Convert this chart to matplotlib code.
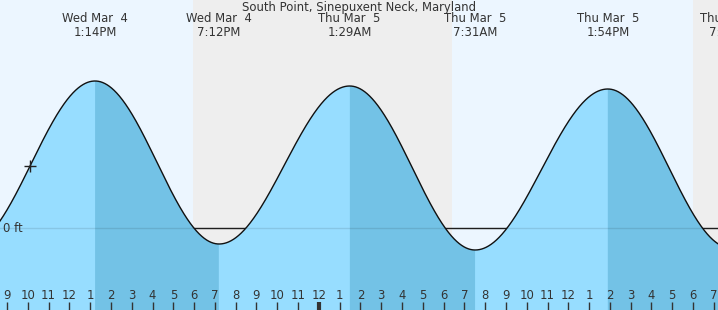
import numpy as np
import matplotlib
matplotlib.use("Agg")
import matplotlib.pyplot as plt

# hours since midnight, Wed Mar 4
tide_times = [7.1, 13.233, 19.2, 25.483, 31.517, 37.9, 43.817]
tide_heights = [-0.18, 1.47, -0.16, 1.42, -0.22, 1.39, -0.20]
tide_labels = ["", "Wed Mar  4\n1:14PM", "Wed Mar  4\n7:12PM", "Thu Mar  5\n1:29AM",
               "Thu Mar  5\n7:31AM", "Thu Mar  5\n1:54PM", "Thu Mar  5\n7:49PM"]
night_start = [17.95, 42.0]
night_end = [30.40, 46.0]
hour_ticks = list(range(9, 44))
now_time = 10.106
title = "South Point, Sinepuxent Neck, Maryland"

x0, x1 = 8.663, 43.2
y0, y1 = -0.82, 2.28

day_bg = "#ECF6FF"
night_bg = "#EEEEEE"
rise_col = "#97DDFF"
fall_col = "#73C2E6"
txt = "#333333"


def tide(t):
    tt = np.asarray(tide_times)
    hh = np.asarray(tide_heights)
    i = np.clip(np.searchsorted(tt, t) - 1, 0, len(tt) - 2)
    f = (t - tt[i]) / (tt[i + 1] - tt[i])
    return hh[i] + (hh[i + 1] - hh[i]) * (1 - np.cos(np.pi * f)) / 2


t = np.linspace(x0 - 0.3, x1 + 0.3, 3000)
h = tide(t)
falling = np.gradient(h) < 0

fig = plt.figure(figsize=(7.18, 3.10), dpi=100)
ax = fig.add_axes([0, 0, 1, 1])
ax.set_facecolor(day_bg)
ax.set_xlim(x0, x1)
ax.set_ylim(y0, y1)
ax.set_axisbelow(False)

for a, b in zip(night_start, night_end):
    ax.axvspan(a, b, color=night_bg, lw=0, zorder=0)

ax.axhline(0, color="#222222", lw=1, zorder=1)
ax.fill_between(t, h, y0 - 0.1, color=rise_col, lw=0, zorder=2)
ax.fill_between(t, h, y0 - 0.1, where=falling, color=fall_col, lw=0, zorder=2.1)
ax.axhline(0, color="#000000", alpha=0.1, lw=1, zorder=2.2)
ax.plot(t, h, color="#111111", lw=1.0, zorder=4)

ax.plot([now_time], [tide(now_time)], marker="+", ms=9, mew=1, color="#222222", zorder=5)

ax.text(0.004, 0, "0 ft", transform=ax.get_yaxis_transform(), ha="left", va="center",
        fontsize=8.4, color=txt, zorder=6)

ax.text(0.5, 0.976, title, transform=ax.transAxes, ha="center", va="center",
        fontsize=8.4, color=txt)
for tm, lab in zip(tide_times, tide_labels):
    if lab:
        ax.text(tm, 0.917, lab, transform=ax.get_xaxis_transform(), ha="center", va="center",
                fontsize=8.4, color=txt, linespacing=1.1, clip_on=False)

ax.set_xticks(hour_ticks)
ax.set_xticklabels([str((hr - 1) % 12 + 1) for hr in hour_ticks])
ax.tick_params(axis="x", direction="in", length=6, width=1, color=txt, pad=-15,
               labelsize=8.4, labelcolor=txt)
for tk, hr in zip(ax.xaxis.get_major_ticks(), hour_ticks):
    if hr % 24 == 0:
        tk.tick1line.set_markeredgewidth(3)
ax.set_yticks([])
for s in ax.spines.values():
    s.set_visible(False)

fig.savefig("out.png", dpi=100)
